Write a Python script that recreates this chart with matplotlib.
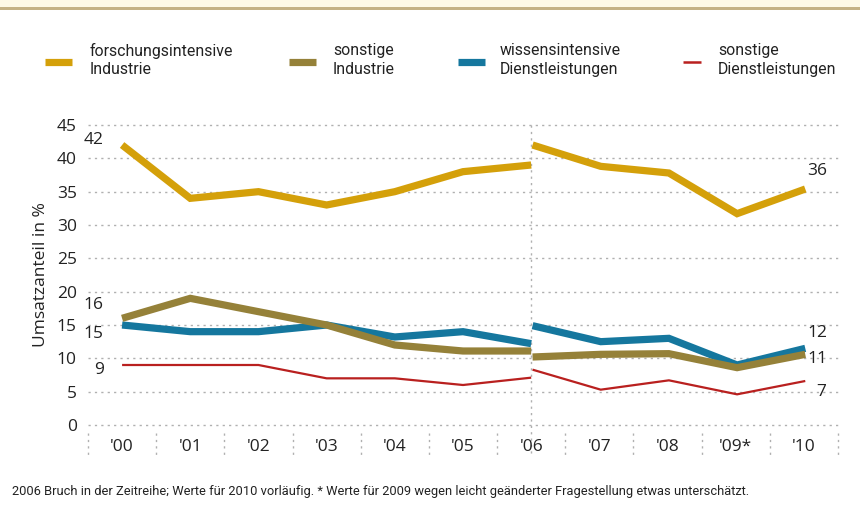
import matplotlib
matplotlib.use("Agg")
import matplotlib.pyplot as plt
from matplotlib import font_manager
from matplotlib.patches import Rectangle
from matplotlib.lines import Line2D
import numpy as np

# ---------------- data ----------------
categories = ["'00", "'01", "'02", "'03", "'04", "'05", "'06", "'07", "'08", "'09*", "'10"]
series_names = ["forschungsintensive\nIndustrie", "sonstige\nIndustrie",
                "wissensintensive\nDienstleistungen", "sonstige\nDienstleistungen"]
# before break (2000-2006) and after break (2006-2010)
forsch_a = [42, 34, 35, 33, 35, 38, 39]
forsch_b = [42, 38.8, 37.8, 31.7, 35.4]
sonstInd_a = [16, 19, 17, 15, 12, 11.1, 11.1]
sonstInd_b = [10.2, 10.6, 10.7, 8.6, 10.6]
wissen_a = [15, 14, 14, 15, 13.2, 14, 12.2]
wissen_b = [14.9, 12.5, 13.0, 9.0, 11.5]
sonstDL_a = [9, 9, 9, 7, 7, 6, 7.1]
sonstDL_b = [8.3, 5.3, 6.7, 4.6, 6.6]
start_labels = ["42", "16", "15", "9"]
end_labels = ["36", "11", "12", "7"]
yticks = [0, 5, 10, 15, 20, 25, 30, 35, 40, 45]
footnote = ("2006 Bruch in der Zeitreihe; Werte für 2010 vorläufig. "
            "* Werte für 2009 wegen leicht geänderter Fragestellung etwas unterschätzt.")
ylabel = "Umsatzanteil in %"

colors = ["#d4a00a", "#958139", "#15779e", "#b9201f"]
widths = [5.2, 5.2, 5.2, 1.6]

# fonts
avail = {f.name for f in font_manager.fontManager.ttflist}
narrow = "Roboto" if "Roboto" in avail else "DejaVu Sans"
body = "Open Sans" if "Open Sans" in avail else "DejaVu Sans"
txt = "#222222"
grid_c = "#b0b0b0"
dash = (0, (1.6, 3.0))

fig = plt.figure(figsize=(8.6, 5.11), dpi=100)
fig.patch.set_facecolor("white")
# top band
fig.add_artist(Rectangle((0, 1 - 7 / 511), 1, 7 / 511, transform=fig.transFigure,
                         facecolor="#fdfae6", edgecolor="none"))
fig.add_artist(Rectangle((0, 1 - 10 / 511), 1, 3 / 511, transform=fig.transFigure,
                         facecolor="#c4b385", edgecolor="none"))

ax = fig.add_axes([88 / 860, 86 / 511, 750 / 860, 300 / 511])
ax.set_xlim(-0.5, len(categories) - 0.5)
ax.set_ylim(0, 45)
for s in ax.spines.values():
    s.set_visible(False)

ax.set_yticks(yticks)
ax.set_yticklabels([str(v) for v in yticks], fontsize=12.5, color=txt, family=body)
ax.tick_params(axis="y", length=0, pad=8)
ax.set_xticks(range(len(categories)))
ax.set_xticklabels(categories, fontsize=12.5, color=txt, family=body)
ax.tick_params(axis="x", length=0, pad=10)
for y in yticks:
    ax.axhline(y, color=grid_c, lw=1, ls=dash, zorder=0, clip_on=False)
ax.set_ylabel(ylabel, fontsize=12.5, family=body, color=txt, labelpad=6)

# separators on x-axis
trans = ax.get_xaxis_transform()
for i in range(len(categories) + 1):
    ax.add_line(Line2D([i - 0.5, i - 0.5], [-0.025, -0.1], transform=trans,
                       color=grid_c, lw=1, ls=dash, clip_on=False))
# break line
ax.add_line(Line2D([6, 6], [1.0, -0.1], transform=trans, color=grid_c, lw=1,
                   ls=dash, clip_on=False, zorder=1))

xa = np.arange(0, 7)
xb = np.arange(6, 11)
data = [(forsch_a, forsch_b), (sonstInd_a, sonstInd_b), (wissen_a, wissen_b), (sonstDL_a, sonstDL_b)]
order = [0, 2, 1, 3]
for k in order:
    a, b = data[k]
    ax.plot(xa, a, color=colors[k], lw=widths[k], solid_capstyle="butt",
            solid_joinstyle="miter", zorder=3)
    ax.plot(xb + 0.02, b, color=colors[k], lw=widths[k], solid_capstyle="butt",
            solid_joinstyle="miter", zorder=3)

# value labels
lab_kw = dict(fontsize=12.5, color=txt, family=body)
ax.text(-0.27, forsch_a[0] + 0.8, start_labels[0], ha="right", va="center", **lab_kw)
ax.text(-0.27, sonstInd_a[0] + 2.0, start_labels[1], ha="right", va="center", **lab_kw)
ax.text(-0.27, wissen_a[0] - 1.3, start_labels[2], ha="right", va="center", **lab_kw)
ax.text(-0.27, sonstDL_a[0] - 0.8, start_labels[3], ha="right", va="center", **lab_kw)
ax.text(10.2, 38.1, end_labels[0], ha="center", va="center", **lab_kw)
ax.text(10.2, 9.9, end_labels[1], ha="center", va="center", **lab_kw)
ax.text(10.2, 13.8, end_labels[2], ha="center", va="center", **lab_kw)
ax.text(10.25, 5.0, end_labels[3], ha="center", va="center", **lab_kw)

# legend
leg_patch_x = [45, 289, 458, 683]
leg_patch_w = [27, 27, 27, 18]
leg_text_x = [90, 333, 500, 718]
for k in range(4):
    y = 1 - 62 / 511
    fig.add_artist(Line2D([leg_patch_x[k] / 860, (leg_patch_x[k] + leg_patch_w[k]) / 860], [y, y],
                          transform=fig.transFigure, color=colors[k],
                          lw=widths[k] if k < 3 else 1.8, solid_capstyle="butt"))
    fig.text(leg_text_x[k] / 860, 1 - 60 / 511, series_names[k], fontsize=11.4,
             family=narrow, color=txt, va="center", ha="left", linespacing=1.3)

fig.text(12 / 860, 1 - 492 / 511, footnote, fontsize=9.3, family=narrow,
         color=txt, va="center", ha="left")

fig.savefig("out.png", dpi=100)
